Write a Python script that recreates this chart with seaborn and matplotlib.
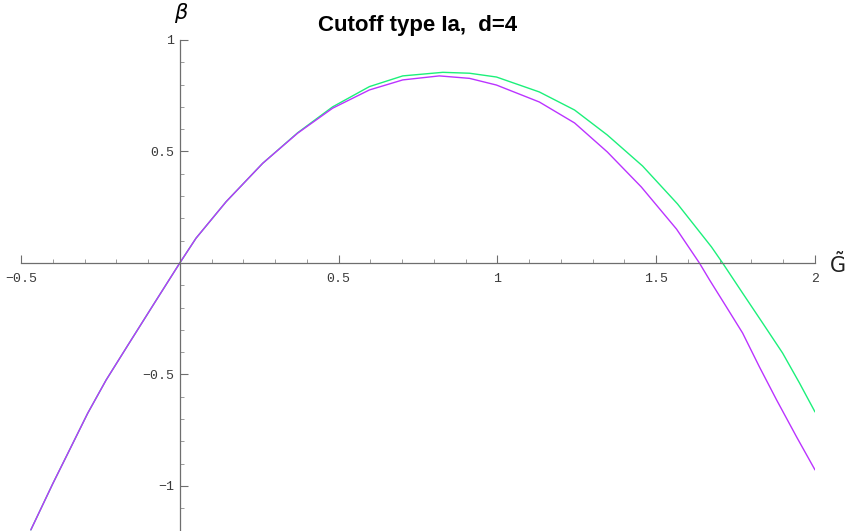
import numpy as np
import pandas as pd
import matplotlib
matplotlib.use("Agg")
import matplotlib.pyplot as plt
import seaborn as sns
from matplotlib.ticker import MultipleLocator, FixedLocator

# ---- data ----
purple_x = [-0.469, -0.400, -0.355, -0.290, -0.232, -0.164, -0.080, 0.0,
            0.051, 0.146, 0.261, 0.371, 0.481, 0.597, 0.702, 0.817, 0.912,
            0.997, 1.132, 1.243, 1.346, 1.453, 1.564, 1.636, 1.668, 1.721,
            1.772, 1.825, 1.879, 1.942, 2.0]
purple_y = [-1.197, -0.990, -0.861, -0.674, -0.525, -0.370, -0.180, 0.0,
            0.111, 0.275, 0.447, 0.582, 0.694, 0.776, 0.821, 0.839, 0.828,
            0.798, 0.722, 0.628, 0.498, 0.341, 0.152, 0.0, -0.076, -0.197,
            -0.314, -0.466, -0.614, -0.780, -0.928]

green_x = [-0.469, -0.400, -0.355, -0.290, -0.232, -0.164, -0.080, 0.0,
           0.051, 0.146, 0.261, 0.371, 0.481, 0.597, 0.702, 0.828, 0.912,
           0.997, 1.132, 1.243, 1.346, 1.457, 1.567, 1.674, 1.709, 1.772,
           1.835, 1.898, 1.951, 2.0]
green_y = [-1.197, -0.990, -0.861, -0.674, -0.525, -0.370, -0.180, 0.0,
           0.111, 0.275, 0.447, 0.584, 0.700, 0.791, 0.839, 0.855, 0.851,
           0.834, 0.767, 0.686, 0.574, 0.435, 0.265, 0.072, 0.0, -0.135,
           -0.269, -0.404, -0.538, -0.668]

x_major = [-0.5, 0.5, 1.0, 1.5, 2.0]
x_major_labels = ["\u22120.5", "0.5", "1", "1.5", "2"]
y_major = [-1.0, -0.5, 0.5, 1.0]
y_major_labels = ["\u22121", "\u22120.5", "0.5", "1"]

title_text = "Cutoff type Ia,  d=4"
xlabel_text = r"$\tilde{\mathrm{G}}$"
ylabel_text = r"$\beta$"

# ---- plotting ----
sns.set_style("white")
plt.rcParams["font.family"] = ["Liberation Mono", "DejaVu Sans Mono"]
plt.rcParams["mathtext.fontset"] = "dejavusans"

df = pd.concat([
    pd.DataFrame({"x": green_x, "y": green_y, "series": "green"}),
    pd.DataFrame({"x": purple_x, "y": purple_y, "series": "purple"}),
], ignore_index=True)

fig = plt.figure(figsize=(8.59, 5.31), dpi=100)
W, H = 859, 531
ax = fig.add_axes([21 / W, 0.0, (815 - 21) / W, (531 - 40) / H])

sns.lineplot(data=df, x="x", y="y", hue="series", sort=False,
             palette={"green": "#1cf07a", "purple": "#bb33ff"},
             linewidth=1.0, legend=False, ax=ax, estimator=None)

ax.set_xlim(-0.5, 2.0)
ax.set_ylim(-1.202, 1.0)

for s in ["top", "right"]:
    ax.spines[s].set_visible(False)
ax.spines["left"].set_position(("data", 0))
ax.spines["bottom"].set_position(("data", 0))
for s in ["left", "bottom"]:
    ax.spines[s].set_color("#6e6e6e")
    ax.spines[s].set_linewidth(0.9)

ax.xaxis.set_major_locator(FixedLocator(x_major))
ax.set_xticklabels(x_major_labels)
ax.xaxis.set_minor_locator(MultipleLocator(0.1))
ax.yaxis.set_major_locator(FixedLocator(y_major))
ax.set_yticklabels(y_major_labels)
ax.yaxis.set_minor_locator(MultipleLocator(0.1))

ax.tick_params(axis="both", which="both", bottom=True, left=True,
               top=False, right=False)
ax.tick_params(axis="both", which="major", direction="in", length=6,
               width=0.8, color="#6e6e6e", labelsize=9.5, labelcolor="#3a3a3a")
ax.tick_params(axis="both", which="minor", direction="in", length=3,
               width=0.6, color="#8a8a8a")
ax.tick_params(axis="x", which="major", pad=7)
ax.tick_params(axis="y", which="major", pad=4)

ax.set_xlabel("")
ax.set_ylabel("")

fig.text(418 / W, 1 - 26 / H, title_text, ha="center", va="center", color="black",
         fontsize=16, fontweight="bold", family=["Liberation Sans", "DejaVu Sans"])
fig.text(181 / W, 1 - 13 / H, ylabel_text, ha="center", va="center",
         fontsize=15, color="black")
fig.text(837 / W, 1 - 264 / H, xlabel_text, ha="center", va="center",
         fontsize=15, color="#222222")

fig.savefig("out.png", dpi=100)
